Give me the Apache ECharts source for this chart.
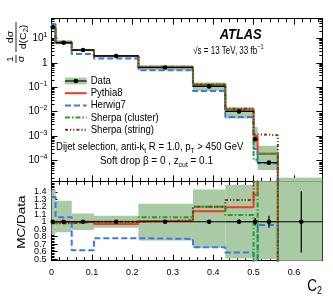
<!DOCTYPE html>
<html><head><meta charset="utf-8">
<script src="https://cdn.jsdelivr.net/npm/echarts@6/dist/echarts.min.js"></script>
<style>html,body{margin:0;padding:0;background:#fff}#c{width:333px;height:297px}</style>
</head><body><div id="c"></div>
<script>
// ---------------- data ----------------
const binEdges = [0, 0.01, 0.05, 0.105, 0.215, 0.35, 0.43, 0.5, 0.51, 0.56, 0.67];
const dataX = [0.003, 0.03, 0.078, 0.16, 0.281, 0.39, 0.464, 0.504, 0.538, 0.618];
const dataY = [28, 6.6, 3.3, 1.9, 0.64, 0.108, 0.0103, 7.5e-4, 8.3e-5, 1.0e-5];
const dataErrRel = [0.01, 0.01, 0.01, 0.01, 0.01, 0.02, 0.03, 0.05, 0.08, 0.41];
const bandLowRel = [0.83, 0.86, 0.89, 0.92, 0.75, 0.65, 0.51, 0.45, 0.5, 0.0];
const bandHighRel = [1.43, 1.28, 1.11, 1.08, 1.24, 1.43, 1.49, 3.2, 4.9, 2.0];
const pythia8 = [28, 6.6, 3.3, 1.84, 0.65, 0.123, 0.0123, 1.02e-3, 1.9e-4, 1e-8];
const herwig7 = [37, 7.0, 2.3, 1.48, 0.49, 0.071, 0.0061, 3.0e-4, 7.9e-5, 1e-8];
const sherpaCluster = [27.4, 6.5, 3.3, 1.9, 0.68, 0.13, 0.0112, 1.1e-4, 1.9e-4, 1e-8];
const sherpaString = [27.4, 6.5, 3.3, 1.9, 0.65, 0.13, 0.0133, 1.2e-3, 1.1e-3, 1e-8];
const ratioPythia8 = [1.0, 1.0, 1.0, 0.97, 1.01, 1.14, 1.195, 1.36, 2.3, 0];
const ratioHerwig7 = [1.33, 1.06, 0.62, 0.78, 0.77, 0.66, 0.59, 0.4, 0.955, 0];
const ratioSherpaCluster = [0.98, 0.98, 1.0, 1.0, 1.06, 1.2, 1.09, 0.15, 2.3, 0];
const ratioSherpaString = [0.98, 0.98, 1.0, 1.0, 1.02, 1.2, 1.29, 1.6, 13, 0];

const xTickValues = [0, 0.1, 0.2, 0.3, 0.4, 0.5, 0.6];
const xTickLabels = ['0', '0.1', '0.2', '0.3', '0.4', '0.5', '0.6'];
const logTickValues = [1e-4, 1e-3, 1e-2, 1e-1, 1, 10];
const logTickLabels = ['10^−4', '10^−3', '10^−2', '10^−1', '1', '10^1'];
const ratioTickValues = [0.5, 0.6, 0.7, 0.8, 0.9, 1.0, 1.1, 1.2, 1.3, 1.4];
const ratioTickLabels = ['0.5', '0.6', '0.7', '0.8', '0.9', '1', '1.1', '1.2', '1.3', '1.4'];

// ---------------- layout ----------------
const X_MIN = 0, X_MAX = 0.67;
const Y_MIN = 1.44e-5, Y_MAX = 63;
const R_MIN = 0.48, R_MAX = 1.54;
const FONT = '"Liberation Sans", Arial, Helvetica, sans-serif';
const BAND = '#aac9a5';
const C_RED = '#f23a1c', C_BLUE = '#3b78f0', C_GREEN = '#22a022', C_BROWN = '#7a3a1a';

const xMinor = []; for (let k = 0; k <= 33; k++) xMinor.push(+(k * 0.02).toFixed(3));
const logMinor = []; for (let n = -5; n <= 1; n++) for (let k = 2; k <= 9; k++) { const v = k * Math.pow(10, n); if (v > Y_MIN && v < Y_MAX) logMinor.push(v); }
const ratioMinor = []; for (let k = 24; k <= 77; k++) ratioMinor.push(+(k * 0.02).toFixed(3));
// split ratio labels over two overlaid axes so no label gets dropped for overlap
const ratioLabelsA = ratioTickValues.filter((v, i) => i % 2 === 1);
const ratioLabelsB = ratioTickValues.filter((v, i) => i % 2 === 0);

function nearest(vals, labels, v, log) {
  let b = 0;
  for (let i = 0; i < vals.length; i++) {
    const d = log ? Math.abs(Math.log10(vals[i]) - Math.log10(v)) : Math.abs(vals[i] - v);
    const db = log ? Math.abs(Math.log10(vals[b]) - Math.log10(v)) : Math.abs(vals[b] - v);
    if (d < db) b = i;
  }
  return labels[b];
}

const lineAx = {show: true, onZero: false, lineStyle: {color: '#000', width: 1}};
function tick(vals, len) { return {show: true, inside: true, length: len, customValues: vals, lineStyle: {color: '#000', width: 1}}; }
const labelCommon = {show: true, showMinLabel: true, showMaxLabel: true, hideOverlap: false};

function makeX(g, pos, vals, len, labels) {
  return {
    type: 'value', gridIndex: g, position: pos, min: X_MIN, max: X_MAX,
    axisLine: lineAx, splitLine: {show: false}, axisTick: tick(vals, len),
    axisLabel: labels ? Object.assign({}, labelCommon, {customValues: xTickValues, fontSize: 9, fontFamily: FONT, color: '#000', margin: 7,
      formatter: v => nearest(xTickValues, xTickLabels, v, false)}) : {show: false}
  };
}
function makeYlog(pos, vals, len, labels) {
  return {
    type: 'log', logBase: 10, gridIndex: 0, position: pos, min: Y_MIN, max: Y_MAX,
    axisLine: lineAx, splitLine: {show: false}, axisTick: tick(vals, len),
    axisLabel: labels ? Object.assign({}, labelCommon, {customValues: logTickValues, margin: 4,
      formatter: v => { const s = nearest(logTickValues, logTickLabels, v, true); const p = s.split('^'); return p.length > 1 ? '{b|' + p[0] + '}{s|' + p[1] + '}' : '{b|' + p[0] + '}'; },
      rich: {b: {fontSize: 10, lineHeight: 14, fontFamily: FONT, color: '#000'}, s: {fontSize: 7, lineHeight: 8, verticalAlign: 'top', fontFamily: FONT, color: '#000'}}}) : {show: false}
  };
}
function makeYr(pos, vals, len, labelVals) {
  return {
    type: 'value', gridIndex: 1, position: pos, min: R_MIN, max: R_MAX,
    axisLine: lineAx, splitLine: {show: false}, axisTick: tick(vals, len),
    axisLabel: labelVals ? Object.assign({}, labelCommon, {customValues: labelVals, fontSize: 9, lineHeight: 8, fontFamily: FONT, color: '#000', margin: 5,
      formatter: v => nearest(ratioTickValues, ratioTickLabels, v, false)}) : {show: false}
  };
}

function stepPts(vals) {
  const pts = vals.map((v, i) => [binEdges[i], v]);
  pts.push([binEdges[binEdges.length - 1], vals[vals.length - 1]]);
  return pts;
}
function stepSeries(name, vals, xi, yi, color, dash, z) {
  return {name, type: 'line', xAxisIndex: xi, yAxisIndex: yi, step: 'end', symbol: 'none', clip: true, z,
    data: stepPts(vals), lineStyle: {color, width: 2, type: dash}, silent: true, animation: false};
}
function bandSeries(low, high, xi, yi) {
  const d = low.map((l, i) => [binEdges[i], binEdges[i + 1], l, high[i]]);
  return {type: 'custom', xAxisIndex: xi, yAxisIndex: yi, z: 1, silent: true, animation: false, data: d,
    renderItem: (params, api) => {
      const p0 = api.coord([api.value(0), api.value(3)]);
      const p1 = api.coord([api.value(1), api.value(2)]);
      const cs = params.coordSys;
      const r = echarts.graphic.clipRectByRect({x: p0[0], y: p0[1], width: p1[0] - p0[0], height: p1[1] - p0[1]},
        {x: cs.x, y: cs.y, width: cs.width, height: cs.height});
      return r ? {type: 'rect', shape: r, style: {fill: BAND}} : null;
    }};
}
function dataSeries(yv, errRel, xi, yi, isLog) {
  const d = yv.map((y, i) => [binEdges[i], binEdges[i + 1], dataX[i], y, errRel[i]]);
  return {type: 'custom', xAxisIndex: xi, yAxisIndex: yi, z: 10, silent: true, animation: false, data: d,
    renderItem: (params, api) => {
      const x0 = api.value(0), x1 = api.value(1), xc = api.value(2), y = api.value(3), e = api.value(4);
      const cs = params.coordSys;
      const a = api.coord([x0, y]), b = api.coord([x1, y]), c = api.coord([xc, y]);
      if (c[1] > cs.y + cs.height + 0.5 || c[1] < cs.y - 0.5) return null;
      const lo = api.coord([xc, Math.max(y * (1 - e), isLog ? 1e-12 : -10)]), hi = api.coord([xc, y * (1 + e)]);
      const clipY = v => Math.max(cs.y, Math.min(cs.y + cs.height, v));
      return {type: 'group', children: [
        {type: 'line', shape: {x1: a[0], y1: a[1], x2: b[0], y2: b[1]}, style: {stroke: '#000', lineWidth: 1.2}},
        {type: 'line', shape: {x1: c[0], y1: clipY(lo[1]), x2: c[0], y2: clipY(hi[1])}, style: {stroke: '#000', lineWidth: 1.2}},
        {type: 'circle', shape: {cx: c[0], cy: c[1], r: 2.3}, style: {fill: '#000'}}
      ]};
    }};
}

const topBandLow = dataY.map((v, i) => Math.max(v * bandLowRel[i], 1e-12));
const topBandHigh = dataY.map((v, i) => v * bandHighRel[i]);
const ones = dataY.map(() => 1);

const DASH_BLUE = [6, 3], DASH_GREEN = [5, 2, 1.5, 2], DASH_BROWN = [3, 2, 1.2, 2, 1.2, 2];

// ---------------- graphic texts ----------------
const T = (x, y, text, font, opts) => Object.assign({type: 'text', x, y, silent: true,
  style: Object.assign({text, font, fill: '#000', textVerticalAlign: 'middle', textAlign: 'left'}, (opts && opts.style) || {})},
  opts && opts.el ? opts.el : {});
const subRich = (fs) => ({
  n: {fontSize: fs, lineHeight: fs + 4, fontFamily: FONT, color: '#000'},
  sub: {fontSize: fs * 0.7, lineHeight: fs * 0.75, verticalAlign: 'bottom', fontFamily: FONT, color: '#000'},
  sup: {fontSize: fs * 0.7, lineHeight: fs * 0.75, verticalAlign: 'top', fontFamily: FONT, color: '#000'}
});

const legendItems = [
  {name: 'Pythia8', color: C_RED, dash: null},
  {name: 'Herwig7', color: C_BLUE, dash: DASH_BLUE},
  {name: 'Sherpa (cluster)', color: C_GREEN, dash: DASH_GREEN},
  {name: 'Sherpa (string)', color: C_BROWN, dash: DASH_BROWN}
];
const LX0 = 65, LX1 = 86.7, LTX = 90.7, LY0 = 81, LDY = 12.2;
const graphics = [];
graphics.push({type: 'rect', silent: true, shape: {x: LX0, y: LY0 - 3.4, width: LX1 - LX0, height: 6.8}, style: {fill: BAND}});
graphics.push({type: 'line', silent: true, shape: {x1: LX0, y1: LY0, x2: LX1, y2: LY0}, style: {stroke: '#000', lineWidth: 1.2}});
graphics.push({type: 'circle', silent: true, shape: {cx: (LX0 + LX1) / 2, cy: LY0, r: 2.3}, style: {fill: '#000'}});
graphics.push(T(LTX, LY0, 'Data', '11px ' + FONT, {el: {scaleX: 0.87}}));
legendItems.forEach((it, i) => {
  const y = LY0 + LDY * (i + 1);
  graphics.push({type: 'line', silent: true, shape: {x1: LX0, y1: y, x2: LX1, y2: y},
    style: {stroke: it.color, lineWidth: 2, lineDash: it.dash || null}});
  graphics.push(T(LTX, y, it.name, '11px ' + FONT, {el: {scaleX: 0.87}}));
});
graphics.push(T(240.7, 35, 'ATLAS', 'italic bold 15px ' + FONT, {style: {textAlign: 'center'}, el: {scaleX: 0.86}}));
graphics.push({type: 'text', silent: true, x: 263.5, y: 51, scaleX: 0.8,
  style: {text: '{n|√s = 13 TeV, 33 fb}{sup|−1}', rich: subRich(10), textAlign: 'right', textVerticalAlign: 'middle'}});
graphics.push({type: 'text', silent: true, x: 56, y: 147, scaleX: 0.87,
  style: {text: '{n|Dijet selection, anti-k}{sub|t}{n| R = 1.0, p}{sub|T}{n| > 450 GeV}', rich: subRich(11), textAlign: 'left', textVerticalAlign: 'middle'}});
graphics.push({type: 'text', silent: true, x: 100, y: 161, scaleX: 0.9,
  style: {text: '{n|Soft drop β = 0 , z}{sub|cut}{n| = 0.1}', rich: subRich(11), textAlign: 'left', textVerticalAlign: 'middle'}});
// y title top: 1/sigma dsigma/d(C2)
const fr = 10.5;
graphics.push({type: 'group', x: 16, y: 63, rotation: Math.PI / 2, scaleY: 0.9, silent: true, children: [
  {type: 'text', x: 4, y: -0.5, style: {text: '1', font: fr + 'px ' + FONT, fill: '#000', textAlign: 'center', textVerticalAlign: 'bottom'}},
  {type: 'line', shape: {x1: 0, y1: 0, x2: 8, y2: 0}, style: {stroke: '#000', lineWidth: 0.9}},
  {type: 'text', x: 4, y: 0.5, style: {text: 'σ', font: fr + 'px ' + FONT, fill: '#000', textAlign: 'center', textVerticalAlign: 'top'}},
  {type: 'text', x: 26, y: -0.5, style: {text: 'dσ', font: fr + 'px ' + FONT, fill: '#000', textAlign: 'center', textVerticalAlign: 'bottom'}},
  {type: 'line', shape: {x1: 11, y1: 0, x2: 41, y2: 0}, style: {stroke: '#000', lineWidth: 0.9}},
  {type: 'text', x: 26, y: 0.5, style: {text: '{n|d(C}{sub|2}{n|)}', rich: subRich(fr), textAlign: 'center', textVerticalAlign: 'top'}}
]});
graphics.push({type: 'text', silent: true, x: 21.5, y: 222, rotation: Math.PI / 2, scaleY: 0.87,
  style: {text: 'MC/Data', font: '13.5px ' + FONT, fill: '#000', textAlign: 'center', textVerticalAlign: 'middle'}});
graphics.push({type: 'text', silent: true, x: 322, y: 287, scaleX: 0.85,
  style: {text: '{c|C}{s|2}', rich: {c: {fontSize: 16, lineHeight: 20, fontFamily: FONT, color: '#000'},
    s: {fontSize: 10.5, lineHeight: 11, verticalAlign: 'bottom', fontFamily: FONT, color: '#000'}}, textAlign: 'right', textVerticalAlign: 'middle'}});

// ---------------- option ----------------
const option = {
  animation: false,
  backgroundColor: '#fff',
  grid: [
    {left: 51.5, top: 18.7, width: 270.8, height: 162.6, containLabel: false},
    {left: 51.5, top: 181.3, width: 270.8, height: 79.4, containLabel: false}
  ],
  xAxis: [
    makeX(0, 'bottom', xTickValues, 6, false), makeX(0, 'bottom', xMinor, 3.5, false),
    makeX(0, 'top', xTickValues, 6, false), makeX(0, 'top', xMinor, 3.5, false),
    makeX(1, 'bottom', xTickValues, 6, true), makeX(1, 'bottom', xMinor, 3.5, false),
    makeX(1, 'top', xTickValues, 6, false), makeX(1, 'top', xMinor, 3.5, false)
  ],
  yAxis: [
    makeYlog('left', logTickValues, 6, true), makeYlog('left', logMinor, 3, false),
    makeYlog('right', logTickValues, 6, false), makeYlog('right', logMinor, 3, false),
    makeYr('left', ratioTickValues, 6, ratioLabelsA), makeYr('left', ratioMinor, 3, ratioLabelsB),
    makeYr('right', ratioTickValues, 6, null), makeYr('right', ratioMinor, 3, null)
  ],
  series: [
    bandSeries(topBandLow, topBandHigh, 0, 0),
    stepSeries('Pythia8', pythia8, 0, 0, C_RED, 'solid', 3),
    stepSeries('Herwig7', herwig7, 0, 0, C_BLUE, DASH_BLUE, 4),
    stepSeries('Sherpa (cluster)', sherpaCluster, 0, 0, C_GREEN, DASH_GREEN, 5),
    stepSeries('Sherpa (string)', sherpaString, 0, 0, C_BROWN, DASH_BROWN, 6),
    dataSeries(dataY, dataErrRel, 0, 0, true),
    bandSeries(bandLowRel, bandHighRel, 4, 4),
    stepSeries('Pythia8', ratioPythia8, 4, 4, C_RED, 'solid', 3),
    stepSeries('Herwig7', ratioHerwig7, 4, 4, C_BLUE, DASH_BLUE, 4),
    stepSeries('Sherpa (cluster)', ratioSherpaCluster, 4, 4, C_GREEN, DASH_GREEN, 5),
    stepSeries('Sherpa (string)', ratioSherpaString, 4, 4, C_BROWN, DASH_BROWN, 6),
    dataSeries(ones, dataErrRel, 4, 4, false)
  ],
  graphic: {elements: graphics}
};
const chart = echarts.init(document.getElementById('c'), null, {renderer: 'canvas'});
chart.setOption(option);
</script></body></html>
